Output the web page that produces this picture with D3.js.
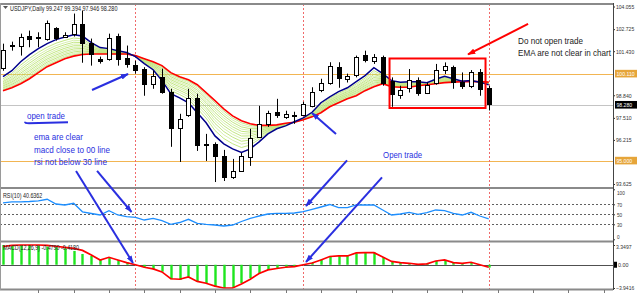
<!DOCTYPE html>
<html>
<head>
<meta charset="utf-8">
<script src="https://cdn.jsdelivr.net/npm/d3@7"></script>
<style>
  body { margin: 0; background: #fff; }
  svg { display: block; font-family: "Liberation Sans", Arial, sans-serif; }
</style>
</head>
<body>
<div id="chart"></div>
<script>
// USDJPY, Daily - 56 bars
const open = [100.46, 101.79, 101.76, 102.35, 102.23, 102.17, 102.79, 102.29, 102.46, 103.05,
  101.93, 100.96, 100.99, 102.35, 101.05, 100.64, 100.37, 99.52, 99.93, 99.05,
  96.92, 97.69, 98.69, 95.95, 95.95, 95.27, 94.04, 94.39, 95.22, 96.36,
  97.16, 97.83, 97.57, 97.66, 97.69, 98.22, 99.16, 99.61, 100.52, 99.81,
  99.99, 101.20, 100.84, 101.07, 99.65, 98.87, 99.26, 99.74, 99.00, 99.54,
  100.32, 100.48, 99.59, 99.34, 100.18, 99.247];
const high = [101.87, 101.99, 102.46, 102.64, 102.54, 103.23, 102.84, 102.54, 103.64, 103.82,
  102.17, 101.11, 102.46, 102.46, 101.76, 100.87, 100.49, 100.28, 100.40, 99.22,
  97.75, 99.22, 98.93, 96.57, 96.07, 95.63, 95.10, 95.45, 96.87, 98.22,
  97.93, 98.63, 97.93, 97.87, 98.46, 99.31, 99.81, 100.78, 100.78, 100.11,
  101.17, 101.46, 101.26, 101.17, 99.89, 99.40, 100.38, 99.89, 99.59, 100.68,
  100.77, 100.58, 100.18, 100.32, 100.38, 99.394];
const low = [100.28, 101.46, 101.17, 101.66, 101.66, 102.05, 102.05, 102.23, 102.29, 100.75,
  100.58, 100.70, 100.87, 100.58, 100.46, 100.11, 98.81, 99.22, 98.93, 95.81,
  94.92, 97.57, 95.57, 94.98, 93.74, 93.80, 93.92, 94.33, 94.69, 96.34,
  96.98, 97.51, 97.45, 97.16, 97.63, 98.13, 99.02, 99.46, 99.28, 99.59,
  99.89, 100.77, 100.68, 99.40, 98.16, 98.63, 99.00, 98.81, 98.91, 99.46,
  100.09, 99.22, 99.21, 99.26, 98.81, 97.946];
const close = [101.52, 101.82, 102.29, 102.20, 102.26, 103.11, 102.23, 102.40, 103.05, 101.93,
  101.29, 100.84, 102.23, 100.99, 100.70, 100.34, 99.46, 99.99, 99.02, 96.92,
  97.45, 98.69, 95.92, 95.89, 95.27, 94.04, 94.39, 95.27, 96.34, 97.13,
  97.81, 97.63, 97.75, 97.69, 98.31, 99.05, 99.58, 100.58, 99.90, 99.99,
  101.07, 100.91, 101.07, 99.54, 98.91, 99.16, 99.74, 99.00, 99.46, 100.32,
  100.58, 99.59, 99.34, 100.18, 99.21, 98.280];

// moving average ribbon edges
const emaFast = [99.93, 100.28, 100.81, 101.23, 101.58, 101.87, 102.11, 102.26, 102.40, 102.32,
  101.93, 101.64, 101.58, 101.46, 101.35, 101.11, 100.70, 100.34, 99.70, 98.93,
  98.69, 98.40, 97.81, 97.22, 96.45, 95.98, 95.69, 95.48, 95.69, 96.10,
  96.57, 96.87, 97.04, 97.28, 97.51, 97.84, 98.40, 98.75, 99.05, 99.28,
  99.64, 99.99, 100.46, 100.11, 99.70, 99.61, 99.64, 99.64, 99.58, 99.78,
  99.96, 99.81, 99.66, 99.70, 99.61, 99.46];
const emaSlow = [99.11, 99.28, 99.52, 99.81, 100.17, 100.52, 100.75, 100.99, 101.14, 101.23,
  101.26, 101.26, 101.26, 101.26, 101.26, 101.17, 100.99, 100.81, 100.58, 100.17,
  99.93, 99.75, 99.46, 98.99, 98.52, 98.04, 97.63, 97.34, 97.16, 97.07,
  97.07, 97.10, 97.19, 97.25, 97.40, 97.57, 97.81, 98.16, 98.40, 98.63,
  98.81, 99.11, 99.34, 99.52, 99.34, 99.31, 99.31, 99.40, 99.46, 99.52,
  99.58, 99.61, 99.64, 99.65, 99.64, 99.61];

const rsi = [73, 75, 75, 75.6, 77, 80, 70.6, 68.6, 72, 55,
  51.6, 48.6, 57.2, 48.6, 45.2, 44, 38.6, 42, 37.2, 30,
  33.6, 40, 32, 30, 28.6, 26.6, 28.6, 35.6, 42, 46.6,
  50.6, 52, 52, 52.6, 55.2, 60, 64.6, 69.6, 63.2, 63.2,
  68.6, 68.6, 68.6, 58.6, 48.6, 50.6, 54, 50, 53.2, 58.6,
  57.2, 52, 48.6, 54, 46.6, 40.6362];

const macdMain = [3.35, 3.27, 3.35, 3.35, 3.27, 3.10, 2.97, 2.80, 2.34, 1.83,
  1.49, 0.81, 1.27, 0.81, 0.36, 0.0, -0.42, -0.76, -1.17, -2.46,
  -2.58, -2.02, -2.86, -3.14, -3.71, -3.94, -3.90, -3.14, -2.29, -1.44,
  -0.88, -0.59, -0.42, -0.32, 0.0, 0.36, 0.93, 1.49, 1.49, 1.49,
  1.95, 2.00, 2.08, 1.27, 0.53, 0.36, 0.25, 0.14, 0.25, 0.64,
  0.81, 0.36, 0.25, 0.42, 0.0, -0.479];
const macdSignal = [3.10, 3.27, 3.35, 3.35, 3.35, 3.27, 3.14, 2.94, 2.77, 2.43,
  1.66, 0.81, 1.27, 0.81, 0.36, 0.0, -0.42, -0.71, -1.22, -2.37,
  -2.46, -2.07, -2.83, -3.14, -3.63, -3.94, -3.94, -3.26, -2.46, -1.48,
  -0.88, -0.63, -0.42, -0.32, 0.0, 0.30, 0.81, 1.40, 1.49, 1.49,
  2.00, 2.05, 2.05, 1.32, 0.56, 0.36, 0.25, 0.08, 0.14, 0.64,
  0.81, 0.36, 0.25, 0.42, 0.0, -0.418];

const priceTicks = [104.055, 102.725, 101.430, 98.840, 97.510, 96.215, 93.625];
const rsiTicks = [100, 70, 50, 30, 0];
const rsiLevels = [70, 50, 30];
const macdTicks = [3.3497, 0, -3.9416];
const priceLevels = [100.110, 95.000];
const lastPrice = 98.280;
const markedBars = [15, 34, 55];

const n = open.length;
const W = 638, H = 294, plotR = 613;
const blue = '#2a2fe0';

const x = d3.scaleLinear().domain([0, 55]).range([3, 488.7]);
const yPrice = d3.scaleLinear().domain([93.625, 104.055]).range([184, 6.5]);
const yRsi = d3.scaleLinear().domain([0, 100]).range([239.3, 189.3]);
const yMacd = d3.scaleLinear().domain([-3.9416, 3.3497]).range([288, 245]);
const panels = { main: yPrice, rsi: yRsi, macd: yMacd };

const svg = d3.select('#chart').append('svg').attr('width', W).attr('height', H);
svg.append('rect').attr('width', W).attr('height', H).attr('fill', '#fff');

const defs = svg.append('defs');
[['blue', blue], ['red', '#ff0000']].forEach(([id, c]) => {
  defs.append('marker').attr('id', 'head-' + id)
    .attr('viewBox', '0 0 10 7').attr('refX', 9).attr('refY', 3.5)
    .attr('markerWidth', 4).attr('markerHeight', 2.8).attr('orient', 'auto')
    .append('path').attr('d', 'M0,0L10,3.5L0,7z').attr('fill', c);
});

// small text is squeezed to the width MetaTrader uses
function tiny(sel, size) {
  sel.attr('font-size', size || 6.6)
    .attr('textLength', function () { return this.textContent.length * 2.62; })
    .attr('lengthAdjust', 'spacingAndGlyphs');
}
function axisText(sel) {
  sel.attr('font-size', 5.8)
    .attr('textLength', function () { return this.textContent.length * 2.6; })
    .attr('lengthAdjust', 'spacingAndGlyphs');
}

// horizontal levels
svg.append('g').selectAll('line').data(priceLevels).join('line')
  .attr('x1', 0).attr('x2', plotR)
  .attr('y1', d => Math.round(yPrice(d)) + 0.5).attr('y2', d => Math.round(yPrice(d)) + 0.5)
  .attr('stroke', '#f2b552').attr('stroke-width', 1.2);
svg.append('line').attr('x1', 0).attr('x2', plotR)
  .attr('y1', Math.round(yPrice(lastPrice)) + 0.5).attr('y2', Math.round(yPrice(lastPrice)) + 0.5)
  .attr('stroke', '#c4c4c4');

svg.append('g').selectAll('line').data(rsiLevels).join('line')
  .attr('x1', 0).attr('x2', plotR)
  .attr('y1', d => Math.round(yRsi(d)) + 0.5).attr('y2', d => Math.round(yRsi(d)) + 0.5)
  .attr('stroke', '#606060').attr('stroke-dasharray', '2,2');
svg.append('line').attr('x1', 0).attr('x2', plotR)
  .attr('y1', Math.round(yMacd(0)) + 0.5).attr('y2', Math.round(yMacd(0)) + 0.5)
  .attr('stroke', '#505050');

// dotted red verticals
svg.append('g').selectAll('line').data(markedBars).join('line')
  .attr('x1', d => Math.round(x(d)) + 0.5).attr('x2', d => Math.round(x(d)) + 0.5)
  .attr('y1', 4).attr('y2', 290)
  .attr('stroke', '#f06a6a').attr('stroke-dasharray', '2,2');

// EMA ribbon
const idx = d3.range(n);
const ribbon = svg.append('g');
d3.range(1, 12).forEach(k => {
  const t = Math.pow(k / 12, 0.75);
  ribbon.append('path').datum(idx)
    .attr('d', d3.line().x(i => x(i)).y(i => yPrice(emaFast[i] + (emaSlow[i] - emaFast[i]) * t)))
    .attr('fill', 'none').attr('stroke', k % 2 ? '#b2df62' : '#cdeb9a')
    .attr('stroke-width', 0.8);
});
svg.append('path').datum(emaSlow)
  .attr('d', d3.line().x((d, i) => x(i)).y(d => yPrice(d)))
  .attr('fill', 'none').attr('stroke', '#ff0000').attr('stroke-width', 1.6);
svg.append('path').datum(emaFast)
  .attr('d', d3.line().x((d, i) => x(i)).y(d => yPrice(d)))
  .attr('fill', 'none').attr('stroke', '#00008b').attr('stroke-width', 1.5);

// candles
const candles = svg.append('g').selectAll('g').data(idx).join('g');
candles.append('line')
  .attr('x1', i => Math.round(x(i)) + 0.5).attr('x2', i => Math.round(x(i)) + 0.5)
  .attr('y1', i => yPrice(high[i])).attr('y2', i => yPrice(low[i]))
  .attr('stroke', '#000');
candles.append('rect')
  .attr('x', i => Math.round(x(i)) - 1.5).attr('width', 4)
  .attr('y', i => Math.round(yPrice(Math.max(open[i], close[i]))) + 0.5)
  .attr('height', i => Math.max(0.1, Math.round(Math.abs(yPrice(open[i]) - yPrice(close[i])))))
  .attr('fill', i => close[i] >= open[i] ? '#fff' : '#000')
  .attr('stroke', '#000');

// RSI
svg.append('path').datum(rsi)
  .attr('d', d3.line().x((d, i) => x(i)).y(d => yRsi(d)))
  .attr('fill', 'none').attr('stroke', '#1e8fff').attr('stroke-width', 1.3);

// MACD
svg.append('g').selectAll('line').data(macdMain).join('line')
  .attr('x1', (d, i) => Math.round(x(i)) + 0.5).attr('x2', (d, i) => Math.round(x(i)) + 0.5)
  .attr('y1', yMacd(0)).attr('y2', d => yMacd(d))
  .attr('stroke', '#1ee61e').attr('stroke-width', 2.4);
svg.append('path').datum(macdSignal)
  .attr('d', d3.line().x((d, i) => x(i)).y(d => yMacd(d)))
  .attr('fill', 'none').attr('stroke', '#ff0000').attr('stroke-width', 1.7);

// window frames
[3, 187, 240.5, 288.5].forEach(yy => {
  svg.append('rect').attr('x', 0).attr('y', yy).attr('width', plotR).attr('height', 2).attr('fill', '#8a8a8a');
});
svg.append('line').attr('x1', 0.5).attr('x2', 0.5).attr('y1', 3).attr('y2', 290).attr('stroke', '#9a9a9a');

// axes on the right
const axPrice = svg.append('g').attr('transform', `translate(${plotR},0)`)
  .call(d3.axisRight(yPrice).tickValues(priceTicks).tickSize(2).tickPadding(1).tickFormat(d3.format('.3f')));
const axRsi = svg.append('g').attr('transform', `translate(${plotR},0)`)
  .call(d3.axisRight(yRsi).tickValues(rsiTicks).tickSize(2).tickPadding(2).tickFormat(d3.format('d')));
const axMacd = svg.append('g').attr('transform', `translate(${plotR},0)`)
  .call(d3.axisRight(yMacd).tickValues(macdTicks).tickSize(2).tickPadding(1)
    .tickFormat(d => d === 0 ? '0.00' : d3.format('.4f')(d)));
[axPrice, axRsi, axMacd].forEach(ax => {
  ax.select('.domain').remove();
  ax.selectAll('line').attr('stroke', '#333');
  ax.selectAll('text').attr('fill', '#333').attr('font-family', '"Liberation Sans", Arial, sans-serif').call(axisText);
});
axRsi.selectAll('.tick').filter(d => d === 100).select('text').attr('dy', '0.9em');
axRsi.selectAll('.tick').filter(d => d === 0).select('text').attr('dy', '-0.1em');
axMacd.selectAll('.tick').filter(d => d > 0).select('text').attr('dy', '0.6em');
axMacd.selectAll('.tick').filter(d => d === 0).select('text').attr('x', 5);
svg.append('line').attr('x1', plotR + 0.5).attr('x2', plotR + 0.5).attr('y1', 3).attr('y2', 290).attr('stroke', '#444');
svg.append('rect').attr('x', plotR + 1).attr('y', yMacd(0) - 3).attr('width', 3).attr('height', 6).attr('fill', '#000');

// highlighted price labels
const tags = svg.append('g').selectAll('g')
  .data([[100.110, '#e6a53a'], [95.000, '#e6a53a'], [lastPrice, '#000']]).join('g')
  .attr('transform', d => `translate(${plotR + 2},${yPrice(d[0])})`);
tags.append('rect').attr('x', 0).attr('y', -3.8).attr('width', 22).attr('height', 7.6).attr('fill', d => d[1]);
tags.append('text').attr('x', 1.5).attr('dy', '0.34em').attr('fill', '#fff')
  .text(d => d3.format('.3f')(d[0])).call(axisText);

// time axis ticks
svg.append('g').selectAll('line').data(d3.range(4, 70, 4)).join('line')
  .attr('x1', d => Math.round(x(d)) + 0.5).attr('x2', d => Math.round(x(d)) + 0.5)
  .attr('y1', 290).attr('y2', 293).attr('stroke', '#777');

// window captions
svg.append('path').attr('d', 'M3,6h5l-2.5,3z').attr('fill', '#555');
svg.append('text').attr('x', 10).attr('y', 10.5).attr('fill', '#222')
  .text('USDJPY,Daily  99.247 99.394 97.946 98.280').call(tiny);
svg.append('text').attr('x', 3).attr('y', 197.5).attr('fill', '#222')
  .text('RSI(10) 40.6362').call(tiny);
svg.append('text').attr('x', 3).attr('y', 250).attr('fill', '#222')
  .text('MACD(12,26,9) -0.4790 -0.4180').call(tiny);

// annotations, anchored in bar index / panel value
const pt = (p, i, v) => [x(i), panels[p](v)];
const arrows = [
  { from: ['main', 10.08, 99.15], to: ['main', 14.16, 100.09], c: 'blue' },
  { from: ['main', 37.71, 96.56], to: ['main', 34.99, 97.80], c: 'blue' },
  { from: ['main', 8.27, 94.39], to: ['macd', 14.72, 0.30], c: 'blue' },
  { from: ['main', 10.65, 94.39], to: ['rsi', 14.55, 54.6], c: 'blue' },
  { from: ['main', 38.96, 95.01], to: ['rsi', 34.31, 66.6], c: 'blue' },
  { from: ['main', 42.92, 94.01], to: ['macd', 34.31, 0.47], c: 'blue' },
  { from: ['main', 59.46, 103.03], to: ['main', 52.66, 101.24], c: 'red' }
];
svg.append('g').selectAll('line').data(arrows).join('line')
  .attr('x1', d => pt(...d.from)[0]).attr('y1', d => pt(...d.from)[1])
  .attr('x2', d => pt(...d.to)[0]).attr('y2', d => pt(...d.to)[1])
  .attr('stroke', d => d.c === 'red' ? '#ff0000' : blue).attr('stroke-width', 2)
  .attr('marker-end', d => `url(#head-${d.c})`);

// "EMA not clear" box
const box = { i0: 43.77, i1: 54.64, top: 101.0, bottom: 98.09 };
svg.append('rect')
  .attr('x', x(box.i0)).attr('y', yPrice(box.top))
  .attr('width', x(box.i1) - x(box.i0)).attr('height', yPrice(box.bottom) - yPrice(box.top))
  .attr('fill', 'none').attr('stroke', '#ff0000').attr('stroke-width', 2);

const notes = [
  { text: 'open trade', i: 2.72, v: 97.45, len: 38, size: 9.5, c: blue },
  { text: 'ema are clear', i: 3.51, v: 96.21, len: 49, size: 9.5, c: blue },
  { text: 'macd close to 00 line', i: 3.51, v: 95.42, len: 76, size: 9.5, c: blue },
  { text: 'rsi not below 30 line', i: 3.51, v: 94.74, len: 73, size: 9.5, c: blue },
  { text: 'Open trade', i: 43.04, v: 95.18, len: 39, size: 9.5, c: blue },
  { text: 'Do not open trade', i: 58.32, v: 101.85, len: 65, size: 8.6, c: '#222' },
  { text: 'EMA are not clear in chart', i: 58.32, v: 101.15, len: 93, size: 8.4, c: '#222' }
];
svg.append('g').selectAll('text').data(notes).join('text')
  .attr('x', d => x(d.i)).attr('y', d => yPrice(d.v))
  .attr('fill', d => d.c).attr('font-size', d => d.size)
  .attr('textLength', d => d.len).attr('lengthAdjust', 'spacingAndGlyphs')
  .text(d => d.text);
// underline under "open trade"
const u0 = pt('main', 2.49, 97.20), u1 = pt('main', 7.36, 97.26);
svg.append('path')
  .attr('d', `M${u0[0]},${u0[1] - 1.5}Q${u0[0]},${u0[1]} ${u0[0] + 4},${u0[1]}L${u1[0]},${u1[1]}`)
  .attr('fill', 'none').attr('stroke', blue).attr('stroke-width', 2);
</script>
</body>
</html>
